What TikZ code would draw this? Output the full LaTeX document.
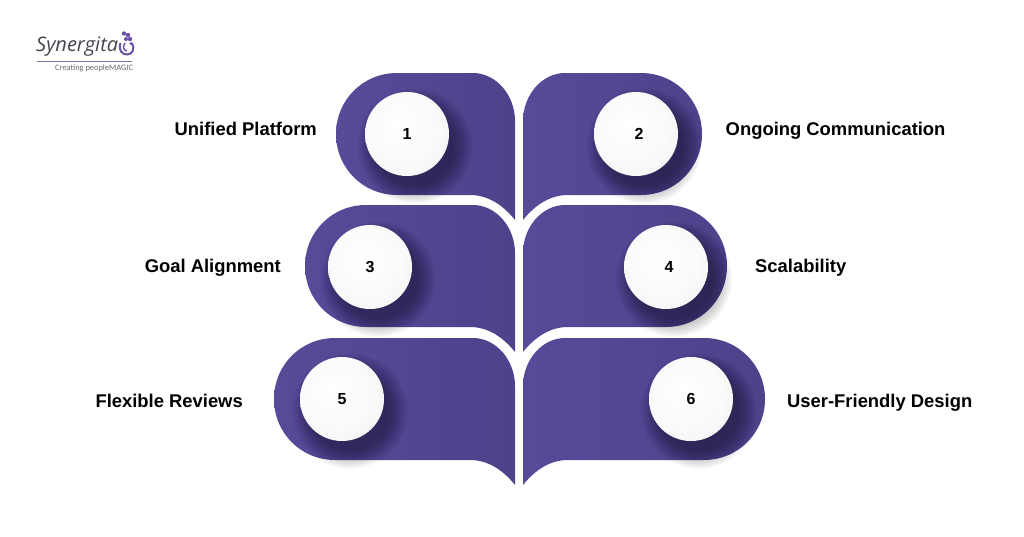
\documentclass[tikz,border=0pt]{standalone}
\usepackage{fontspec}
\setmainfont{Liberation Sans}
\newfontfamily\logofont{Open Sans}
\newfontfamily\tagfont{Carlito}
\usetikzlibrary{positioning}
\definecolor{petallight}{HTML}{584A99}
\definecolor{petaldark}{HTML}{4E428B}
\definecolor{logoink}{HTML}{45454F}
\definecolor{logoviolet}{HTML}{6A51A8}
\pgfdeclareradialshading{ballwhite}{\pgfpoint{-6bp}{6bp}}{color(0bp)=(white); color(22bp)=(white!98!black); color(34bp)=(white!95!black); color(50bp)=(white!88!black)}
\tikzset{
  petal/.style={left color=petallight,right color=petaldark,draw=none},
  ball/.style={circle,shading=ballwhite,minimum size=84pt,inner sep=0pt,font=\bfseries\fontsize{16}{16}\selectfont,text=black},
  caption/.style={font=\bfseries\fontsize{18.4}{20}\selectfont,text=black,inner sep=0pt}
}
\newcommand{\dropshadow}[2]{
  \foreach \k in {0,...,19}
    \fill[black,opacity=.018] ({#1+8},{#2+12}) circle ({58-\k*1});
}
\begin{document}
\begin{tikzpicture}[x=1pt,y=-1pt]
  \useasboundingbox (0,0) rectangle (1024,536);

  % petals, one row after the other
  \foreach \dir/\wid/\ytop/\bx/\by/\num/\nudge in {-1/183/73/407/134/1/0, 1/183/73/636/134/2/6, -1/214/205/370/267/3/0, 1/208/205/666/267/4/6, -1/245/338/342/399/5/0, 1/246/338/691/399/6/0}{
    \shade[petal] ({519+\dir*4},{\ytop+48})
      .. controls ({519+\dir*4},{\ytop+22}) and ({519+\dir*23},{\ytop}) .. ({519+\dir*46},{\ytop})
      -- ({519+\dir*(\wid-61)},{\ytop})
      .. controls ({519+\dir*(\wid-27)},{\ytop}) and ({519+\dir*\wid},{\ytop+27}) .. ({519+\dir*\wid},{\ytop+61})
      .. controls ({519+\dir*\wid},{\ytop+95}) and ({519+\dir*(\wid-27)},{\ytop+122}) .. ({519+\dir*(\wid-61)},{\ytop+122})
      -- ({519+\dir*49},{\ytop+122})
      .. controls ({519+\dir*31},{\ytop+122}) and ({519+\dir*16},{\ytop+132}) .. ({519+\dir*4},{\ytop+147})
      -- cycle;
    \dropshadow{\bx}{\by}
    \node[ball] (ball\num) at (\bx,\by) {\kern\nudge pt\num};
  }

  \node[caption,anchor=base east] (unified)  at (317,135.5) {Unified Platform};
  \node[caption,anchor=base west] (ongoing)  at (725.5,135.5) {Ongoing Communication};
  \node[caption,anchor=base east] (goal)     at (281,272) {Goal Alignment};
  \node[caption,anchor=base west] (scale)    at (755,272) {Scalability};
  \node[caption,anchor=base east] (flexible) at (243,407) {Flexible Reviews};
  \node[caption,anchor=base west] (friendly) at (787,407) {User-Friendly Design};

  % logo
  \node[font=\logofont\itshape\fontsize{20}{20}\selectfont,text=logoink,inner sep=0pt,anchor=base west] (logoname) at (36,51) {Synergita};
  \node[font=\tagfont\fontsize{8.4}{9}\selectfont,text=logoink!80,inner sep=0pt,anchor=base west] (logotag) at (55,70) {Creating peopleMAGIC};
  \draw[logoviolet!60!logoink!80,line width=1pt] (37,61) -- (132,61);
  \draw[logoviolet,line width=2pt] (120.5,43) .. controls (118,50) and (122,54.5) .. (127,54.5) .. controls (133,54.5) and (135,48) .. (132,43);
  \draw[logoviolet,line width=1.4pt] (125,43) .. controls (122,47) and (124,51) .. (127,51);
  \foreach \px/\py/\pr in {124/33.5/2.2, 128/35/2.2, 130/39/2.2, 126/39/2, 131/43.5/1.7}
    \fill[logoviolet] (\px,\py) circle (\pr);
\end{tikzpicture}
\end{document}
